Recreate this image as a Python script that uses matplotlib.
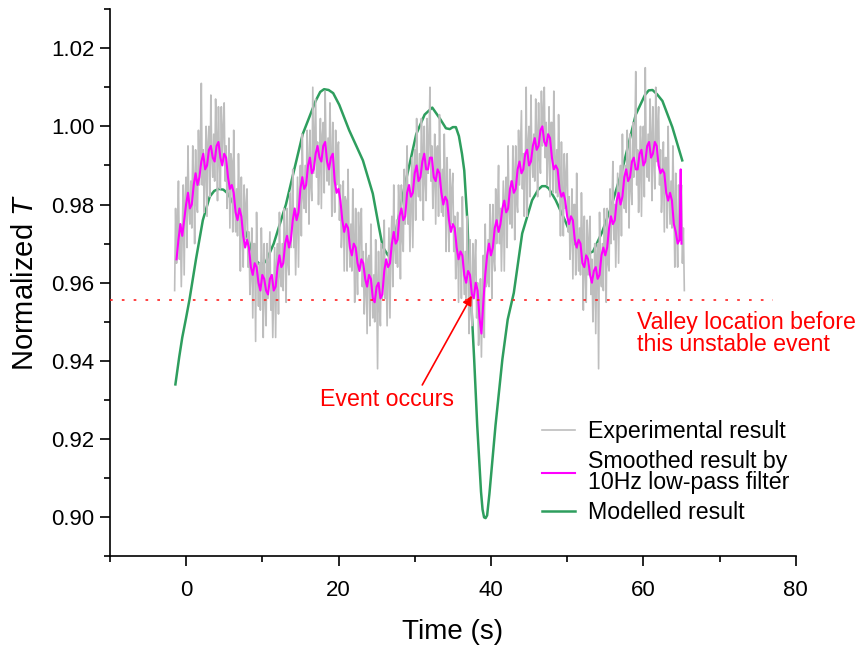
import numpy as np
import matplotlib
matplotlib.use("Agg")
import matplotlib.pyplot as plt

plt.rcParams['font.family'] = ['Liberation Sans', 'DejaVu Sans']
plt.rcParams['mathtext.fontset'] = 'custom'
plt.rcParams['mathtext.rm'] = 'Liberation Sans'
plt.rcParams['mathtext.it'] = 'Liberation Sans:italic'

# experimental record, sampled every 0.125 s starting at t = -1.5 s
exp_t0, exp_dt = -1.5, 0.125
exp_vals = [
    0.958, 0.979, 0.965, 0.974, 0.986, 0.966, 0.975, 0.959,
    0.973, 0.985, 0.962, 0.981, 0.987, 0.969, 0.995, 0.979,
    0.975, 0.986, 0.974, 0.995, 0.987, 0.970, 0.994, 0.980,
    0.978, 0.999, 0.985, 0.994, 1.011, 0.985, 0.994, 0.978,
    0.988, 1.000, 0.977, 0.996, 1.000, 0.982, 1.008, 0.992,
    0.987, 0.998, 0.986, 1.007, 0.998, 0.981, 1.005, 0.991,
    0.984, 1.005, 0.991, 1.000, 1.006, 0.986, 0.995, 0.979,
    0.985, 0.997, 0.974, 0.993, 0.991, 0.973, 0.999, 0.983,
    0.973, 0.984, 0.972, 0.993, 0.980, 0.963, 0.987, 0.973,
    0.964, 0.985, 0.971, 0.980, 0.984, 0.964, 0.973, 0.957,
    0.962, 0.974, 0.951, 0.970, 0.970, 0.945, 0.978, 0.962,
    0.954, 0.965, 0.953, 0.974, 0.963, 0.946, 0.970, 0.956,
    0.949, 0.970, 0.956, 0.965, 0.973, 0.953, 0.962, 0.946,
    0.957, 0.969, 0.946, 0.965, 0.970, 0.952, 0.978, 0.962,
    0.959, 0.970, 0.958, 0.979, 0.972, 0.955, 0.979, 0.965,
    0.962, 0.983, 0.969, 0.978, 0.989, 0.969, 0.978, 0.962,
    0.975, 0.987, 0.964, 0.983, 0.990, 0.972, 0.998, 0.982,
    0.979, 0.990, 0.978, 0.999, 0.992, 0.975, 0.999, 0.985,
    0.981, 1.010, 0.988, 0.997, 1.007, 0.987, 0.996, 0.980,
    0.990, 1.002, 0.979, 0.998, 1.001, 0.983, 1.009, 0.993,
    0.986, 0.997, 0.985, 1.006, 0.994, 0.977, 1.001, 0.987,
    0.978, 0.999, 0.985, 0.994, 0.996, 0.976, 0.985, 0.969,
    0.974, 0.986, 0.963, 0.982, 0.981, 0.963, 0.989, 0.973,
    0.964, 0.975, 0.963, 0.984, 0.972, 0.955, 0.979, 0.965,
    0.957, 0.978, 0.964, 0.973, 0.979, 0.959, 0.968, 0.952,
    0.958, 0.970, 0.947, 0.966, 0.967, 0.949, 0.975, 0.959,
    0.951, 0.962, 0.950, 0.971, 0.961, 0.938, 0.968, 0.954,
    0.949, 0.970, 0.956, 0.965, 0.976, 0.956, 0.965, 0.949,
    0.962, 0.974, 0.951, 0.970, 0.977, 0.959, 0.985, 0.969,
    0.965, 0.976, 0.964, 0.985, 0.978, 0.961, 0.985, 0.971,
    0.968, 0.989, 0.975, 0.984, 0.995, 0.975, 0.984, 0.968,
    0.980, 0.992, 0.969, 0.988, 0.994, 0.976, 1.002, 0.986,
    0.982, 0.993, 0.981, 1.002, 0.993, 0.976, 1.000, 0.986,
    0.981, 1.002, 0.988, 0.997, 1.010, 0.986, 0.995, 0.979,
    0.986, 0.998, 0.975, 0.994, 0.995, 0.977, 1.003, 0.987,
    0.978, 0.989, 0.977, 0.998, 0.985, 0.968, 0.992, 0.978,
    0.968, 0.989, 0.975, 0.984, 0.988, 0.968, 0.977, 0.961,
    0.966, 0.978, 0.955, 0.974, 0.974, 0.956, 0.982, 0.966,
    0.957, 0.968, 0.956, 0.977, 0.964, 0.947, 0.971, 0.957,
    0.949, 0.970, 0.956, 0.965, 0.971, 0.951, 0.960, 0.944,
    0.949, 0.961, 0.941, 0.957, 0.967, 0.946, 0.975, 0.959,
    0.960, 0.971, 0.959, 0.980, 0.973, 0.956, 0.980, 0.966,
    0.963, 0.984, 0.970, 0.979, 0.990, 0.970, 0.979, 0.963,
    0.974, 0.986, 0.963, 0.982, 0.987, 0.969, 0.995, 0.979,
    0.975, 0.986, 0.974, 0.995, 0.988, 0.971, 0.995, 0.981,
    0.978, 0.999, 0.985, 0.994, 1.004, 0.984, 0.993, 0.977,
    0.988, 1.010, 0.977, 0.996, 1.000, 0.982, 1.008, 0.992,
    0.987, 0.998, 0.986, 1.007, 0.999, 0.982, 1.006, 0.992,
    0.988, 1.009, 0.995, 1.004, 1.010, 0.992, 1.001, 0.985,
    0.993, 1.005, 0.982, 1.001, 1.001, 0.983, 1.009, 0.993,
    0.983, 0.994, 0.982, 1.003, 0.989, 0.972, 0.996, 0.982,
    0.972, 0.993, 0.979, 0.988, 0.993, 0.973, 0.982, 0.966,
    0.972, 0.984, 0.961, 0.980, 0.980, 0.962, 0.988, 0.972,
    0.963, 0.974, 0.962, 0.983, 0.970, 0.953, 0.977, 0.963,
    0.955, 0.976, 0.962, 0.971, 0.977, 0.957, 0.966, 0.950,
    0.958, 0.970, 0.947, 0.966, 0.970, 0.938, 0.978, 0.962,
    0.959, 0.970, 0.958, 0.979, 0.972, 0.955, 0.979, 0.965,
    0.963, 0.984, 0.970, 0.979, 0.991, 0.971, 0.980, 0.964,
    0.976, 0.988, 0.965, 0.984, 0.990, 0.972, 0.998, 0.982,
    0.979, 0.990, 0.978, 0.999, 0.991, 0.974, 0.998, 0.984,
    0.980, 1.001, 0.987, 0.996, 1.014, 0.985, 0.994, 0.978,
    0.988, 1.000, 0.977, 0.996, 1.000, 0.982, 1.015, 0.992,
    0.987, 0.998, 0.986, 1.007, 0.998, 0.981, 1.005, 0.991,
    0.984, 1.010, 0.991, 1.000, 1.005, 0.985, 0.994, 0.978,
    0.984, 0.996, 0.973, 0.992, 0.992, 0.974, 1.000, 0.984,
    0.975, 0.986, 0.974, 0.995, 0.981, 0.964, 0.988, 0.974,
    0.964, 0.985, 0.971, 0.980, 0.985, 0.965, 0.974, 0.958,
]

# 10 Hz low-pass result, every 0.25 s from t = -1.25 s, plus the end spike
smooth_t0, smooth_dt = -1.25, 0.25
smooth_vals = [
    0.966, 0.971, 0.975, 0.972, 0.976, 0.980, 0.983, 0.979, 0.980, 0.985,
    0.988, 0.985, 0.987, 0.991, 0.993, 0.989, 0.990, 0.994, 0.995, 0.992,
    0.991, 0.995, 0.996, 0.992, 0.990, 0.993, 0.992, 0.987, 0.984, 0.985,
    0.983, 0.978, 0.976, 0.979, 0.977, 0.972, 0.969, 0.971, 0.969, 0.964,
    0.962, 0.965, 0.964, 0.960, 0.958, 0.962, 0.961, 0.958, 0.957, 0.961,
    0.962, 0.958, 0.959, 0.964, 0.967, 0.964, 0.965, 0.970, 0.972, 0.969,
    0.971, 0.976, 0.979, 0.976, 0.978, 0.984, 0.987, 0.984, 0.985, 0.990,
    0.992, 0.988, 0.989, 0.993, 0.995, 0.992, 0.991, 0.995, 0.996, 0.991,
    0.989, 0.992, 0.993, 0.986, 0.983, 0.984, 0.981, 0.976, 0.973, 0.975,
    0.974, 0.969, 0.967, 0.970, 0.969, 0.965, 0.963, 0.966, 0.965, 0.961,
    0.959, 0.962, 0.961, 0.956, 0.955, 0.959, 0.960, 0.956, 0.957, 0.963,
    0.966, 0.964, 0.965, 0.970, 0.973, 0.970, 0.971, 0.977, 0.979, 0.976,
    0.977, 0.983, 0.985, 0.982, 0.983, 0.988, 0.990, 0.986, 0.987, 0.991,
    0.993, 0.989, 0.989, 0.992, 0.992, 0.987, 0.986, 0.989, 0.988, 0.983,
    0.980, 0.982, 0.981, 0.976, 0.973, 0.975, 0.974, 0.969, 0.966, 0.968,
    0.967, 0.962, 0.960, 0.963, 0.962, 0.957, 0.956, 0.960, 0.958, 0.951,
    0.947, 0.955, 0.962, 0.967, 0.970, 0.967, 0.969, 0.974, 0.976, 0.973,
    0.975, 0.979, 0.981, 0.978, 0.979, 0.984, 0.986, 0.983, 0.984, 0.989,
    0.991, 0.988, 0.989, 0.993, 0.994, 0.990, 0.991, 0.995, 0.997, 0.994,
    0.995, 0.999, 1.000, 0.996, 0.995, 0.998, 0.997, 0.992, 0.989, 0.990,
    0.989, 0.984, 0.982, 0.983, 0.981, 0.977, 0.975, 0.977, 0.976, 0.971,
    0.969, 0.971, 0.970, 0.965, 0.964, 0.967, 0.966, 0.962, 0.960, 0.963,
    0.964, 0.961, 0.962, 0.967, 0.969, 0.967, 0.969, 0.974, 0.977, 0.975,
    0.976, 0.981, 0.983, 0.980, 0.982, 0.987, 0.989, 0.986, 0.987, 0.991,
    0.992, 0.989, 0.989, 0.993, 0.994, 0.990, 0.991, 0.995, 0.996, 0.992,
    0.993, 0.996, 0.995, 0.990, 0.988, 0.989, 0.988, 0.983, 0.981, 0.983,
    0.981, 0.975, 0.973, 0.970, 0.971,
]
smooth_end_t = [64.9, 65.0]
smooth_end_vals = [0.989, 0.970]

# modelled result
model_t = [-1.4, -0.9, -0.5, 0.0, 0.45, 1.3, 2.2, 3.1, 3.7, 4.3, 4.9, 5.5,
           6.8, 8.0, 9.0, 9.8, 10.5, 11.5, 13.1, 15.3, 16.3, 17.0, 17.6,
           18.1, 18.7, 19.3, 20.1, 21.4, 23.2, 24.5, 25.3, 25.8, 26.5, 27.4,
           28.6, 30.2, 31.3, 32.3, 33.3, 34.1, 34.6, 35.0, 35.4, 35.8, 36.2,
           36.5, 36.9, 37.1, 37.4, 37.8, 38.2, 38.7, 38.9, 39.1, 39.3, 39.5,
           39.8, 40.6, 41.5, 42.2, 43.0, 44.1, 45.4, 46.2, 46.7, 47.2, 47.6,
           48.5, 49.7, 51.0, 52.2, 53.4, 54.6, 55.7, 57.2, 59.0, 60.2, 60.7,
           61.2, 61.8, 62.5, 63.8, 65.1]
model_vals = [0.934, 0.941, 0.946, 0.951, 0.9557, 0.966, 0.976, 0.982, 0.9835,
              0.984, 0.9838, 0.9828, 0.978, 0.972, 0.966, 0.9645, 0.9655,
              0.970, 0.980, 0.998, 1.003, 1.0065, 1.0088, 1.0095, 1.0093,
              1.0085, 1.0055, 0.999, 0.9913, 0.9828, 0.9743, 0.9692, 0.967,
              0.972, 0.984, 0.998, 1.003, 1.0048, 1.002, 0.9995, 0.9993,
              0.9998, 0.9998, 0.9975, 0.993, 0.9887, 0.976, 0.966, 0.9557,
              0.9404, 0.9235, 0.9065, 0.902, 0.900, 0.8998, 0.9005, 0.906,
              0.9235, 0.9404, 0.9506, 0.9574, 0.9726, 0.9811, 0.9838, 0.9847,
              0.9847, 0.9841, 0.9811, 0.976, 0.970, 0.967, 0.968, 0.973,
              0.979, 0.9887, 1.003, 1.008, 1.0092, 1.0093, 1.0082, 1.0065,
              0.9998, 0.9913]

valley_level = 0.9557

exp_t = exp_t0 + exp_dt * np.arange(len(exp_vals))
smooth_t = np.concatenate([smooth_t0 + smooth_dt * np.arange(len(smooth_vals)), smooth_end_t])
smooth_v = np.concatenate([smooth_vals, smooth_end_vals])

fig = plt.figure(figsize=(8.65, 6.47), dpi=100)
ax = fig.add_axes([0.127, 0.140, 0.793, 0.846])

ax.plot(exp_t, exp_vals, color='#bebebe', lw=1.2, zorder=2,
        label='Experimental result')
ax.plot(smooth_t, smooth_v, color='#ff00ff', lw=1.5, zorder=3,
        label='Smoothed result by\n10Hz low-pass filter')
ax.plot(model_t, model_vals, color='#2e9e5e', lw=1.8, zorder=1,
        label='Modelled result')

ax.plot([-10, 77], [valley_level, valley_level], color='#ff2020', lw=1.2,
        linestyle=(0, (1.6, 5.5)), zorder=4)

ax.text(59.2, 0.947, 'Valley location before\nthis unstable event', color='red',
        fontsize=16.7, va='center', ha='left', linespacing=0.95)
ax.annotate('Event occurs', xy=(37.5, 0.9567), xytext=(17.6, 0.9302),
            color='red', fontsize=16.7, va='center', ha='left',
            arrowprops=dict(arrowstyle='-|>', color='red', lw=1.2,
                            mutation_scale=14, shrinkA=0, shrinkB=0,
                            relpos=(0.75, 1.0)))

ax.set_xlim(-10, 80)
ax.set_ylim(0.89, 1.03)
ax.set_xticks([0, 20, 40, 60, 80])
ax.set_xticks(np.arange(-10, 81, 10), minor=True)
ax.set_yticks(np.arange(0.90, 1.021, 0.02))
ax.set_yticks(np.arange(0.89, 1.031, 0.01), minor=True)
ax.yaxis.set_major_formatter(matplotlib.ticker.FormatStrFormatter('%.2f'))

for side in ['top', 'right']:
    ax.spines[side].set_visible(False)
for side in ['left', 'bottom']:
    ax.spines[side].set_linewidth(1.2)
ax.tick_params(which='major', direction='out', length=7, width=1.2, labelsize=16)
ax.tick_params(which='minor', direction='out', length=4, width=1.2)
ax.tick_params(axis='x', which='major', pad=10)
ax.tick_params(axis='y', which='major', pad=4)

ax.set_xlabel('Time (s)', fontsize=20, labelpad=13)
ax.set_ylabel('Normalized $\\mathit{T}$', fontsize=21, labelpad=9)

leg = ax.legend(loc='upper left', bbox_to_anchor=(0.608, 0.376),
                bbox_transform=fig.transFigure, frameon=False, fontsize=16.7,
                handlelength=1.42, handletextpad=0.56, labelspacing=0.3,
                borderpad=0.2)
for t in leg.get_texts():
    t.set_linespacing(0.92)

fig.savefig('out.png', dpi=100)
